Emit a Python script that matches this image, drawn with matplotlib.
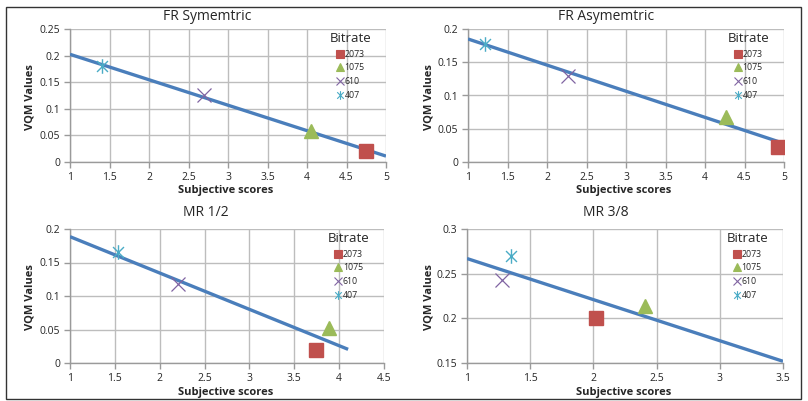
import numpy as np
import matplotlib
matplotlib.use("Agg")
import matplotlib.pyplot as plt
from matplotlib.path import Path
from matplotlib.lines import Line2D
from matplotlib.patches import Rectangle
from matplotlib.ticker import FuncFormatter

plt.rcParams['font.family'] = ['Open Sans', 'DejaVu Sans']

# ---------------- data ----------------
bitrates = ['2073', '1075', '610', '407']

titles = ['FR Symemtric', 'FR Asymemtric', 'MR 1/2', 'MR 3/8']

fr_sym_scores = [4.75, 4.05, 2.70, 1.40]
fr_sym_vqm = [0.020, 0.058, 0.126, 0.180]

fr_asym_scores = [4.92, 4.27, 2.27, 1.22]
fr_asym_vqm = [0.023, 0.068, 0.130, 0.178]

mr12_scores = [3.74, 3.89, 2.20, 1.53]
mr12_vqm = [0.020, 0.052, 0.118, 0.165]

mr38_scores = [2.02, 2.41, 1.28, 1.35]
mr38_vqm = [0.200, 0.214, 0.243, 0.270]

# trend line extent (x range) per panel
trend_start = [1.0, 1.0, 1.0, 1.0]
trend_end = [5.0, 4.95, 4.1, 3.5]

# axis ranges per panel
x_limits = [(1, 5), (1, 5), (1, 4.5), (1, 3.5)]
y_limits = [(0, 0.25), (0, 0.2), (0, 0.2), (0.15, 0.3)]

all_scores = [fr_sym_scores, fr_asym_scores, mr12_scores, mr38_scores]
all_vqm = [fr_sym_vqm, fr_asym_vqm, mr12_vqm, mr38_vqm]

# ---------------- styles ----------------
colors = ['#C0504D', '#9BBB59', '#8064A2', '#4BACC6']
star = Path([(0, -1), (0, 1), (-0.75, -0.75), (0.75, 0.75), (-0.75, 0.75), (0.75, -0.75)],
            [Path.MOVETO, Path.LINETO, Path.MOVETO, Path.LINETO, Path.MOVETO, Path.LINETO])
markers = ['s', '^', 'x', star]
msizes = [9.5, 9.5, 10, 10.5]
mew = [1.0, 1.0, 0.9, 1.0]
line_color = '#4A7EBB'
grid_color = '#BDBDBD'
tick_color = '#262626'

W, H = 808, 401
fig = plt.figure(figsize=(W / 100, H / 100), dpi=100)

# axes boxes in pixels: (left, right, top, bottom)
boxes = [(70, 386, 29, 162), (468, 784, 29, 162), (70, 384, 229, 363), (467, 783, 229, 363)]
title_pos = [(207, 17), (606, 17), (206, 213), (606, 213)]
xlabel_pos = [(226, 191), (624, 191), (226, 392), (624, 392)]
ylabel_pos = [(30, 97), (429, 97), (30, 297), (429, 297)]

fmt = FuncFormatter(lambda v, _: f'{v:g}')

for i in range(4):
    l, r, t, b = boxes[i]
    ax = fig.add_axes([l / W, 1 - b / H, (r - l) / W, (b - t) / H])
    x0, x1 = x_limits[i]
    y0, y1 = y_limits[i]
    ax.set_xlim(x0, x1)
    ax.set_ylim(y0, y1)
    ax.set_xticks(np.arange(x0, x1 + 1e-9, 0.5))
    ax.set_yticks(np.arange(y0, y1 + 1e-9, 0.05))
    ax.xaxis.set_major_formatter(fmt)
    ax.yaxis.set_major_formatter(fmt)
    ax.grid(True, color=grid_color, linewidth=1.0)
    ax.set_axisbelow(True)
    for s in ['top', 'right']:
        ax.spines[s].set_visible(False)
    for s in ['left', 'bottom']:
        ax.spines[s].set_color('#9A9A9A')
        ax.spines[s].set_linewidth(1.0)
    ax.tick_params(axis='both', colors='#9A9A9A', labelcolor=tick_color,
                   labelsize=7.5, length=4, width=1.0, pad=3)

    xs = np.array(all_scores[i])
    ys = np.array(all_vqm[i])
    slope, intercept = np.polyfit(xs, ys, 1)
    tx = np.array([trend_start[i], trend_end[i]])
    ax.plot(tx, slope * tx + intercept, color=line_color, linewidth=2.4,
            solid_capstyle='butt', zorder=3)

    handles = []
    for j in range(4):
        ax.plot([xs[j]], [ys[j]], linestyle='none', marker=markers[j],
                markersize=msizes[j], color=colors[j], markeredgecolor=colors[j],
                markeredgewidth=mew[j], zorder=4)
        handles.append(Line2D([], [], linestyle='none', marker=markers[j],
                              markersize=msizes[j] * 0.6, color=colors[j],
                              markeredgecolor=colors[j], markeredgewidth=0.8))
    leg = ax.legend(handles, bitrates, title='Bitrate', loc='upper right',
                    bbox_to_anchor=(0.965, 1.005), frameon=False, fontsize=6.3,
                    title_fontsize=9.5, handlelength=0.8, handletextpad=0.15,
                    labelspacing=0.55, borderpad=0.2, borderaxespad=0.2)
    leg.get_title().set_color('#262626')
    for txt in leg.get_texts():
        txt.set_color('#262626')

    fig.text(title_pos[i][0] / W, 1 - title_pos[i][1] / H, titles[i],
             ha='center', va='center', fontsize=10, color='#262626')
    fig.text(xlabel_pos[i][0] / W, 1 - xlabel_pos[i][1] / H, 'Subjective scores',
             ha='center', va='center', fontsize=8, fontweight='bold', color='#262626')
    fig.text(ylabel_pos[i][0] / W, 1 - ylabel_pos[i][1] / H, 'VQM Values',
             ha='center', va='center', fontsize=8, fontweight='bold', rotation=90,
             color='#262626')

fig.patches.append(Rectangle((6 / W, 2 / H), (801 - 6) / W, (399 - 7) / H,
                             transform=fig.transFigure, fill=False,
                             edgecolor='#333333', linewidth=1.0))

fig.savefig('out.png', dpi=100)
